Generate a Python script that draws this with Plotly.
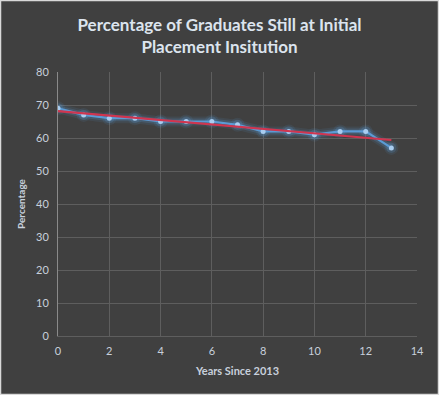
import numpy as np
import plotly.graph_objects as go

years = [0, 1, 2, 3, 4, 5, 6, 7, 8, 9, 10, 11, 12, 13]
percentage = [69, 67, 66, 66, 65, 65, 65, 64, 62, 62, 61, 62, 62, 57]
x_ticks = [0, 2, 4, 6, 8, 10, 12, 14]
y_ticks = [0, 10, 20, 30, 40, 50, 60, 70, 80]

slope, intercept = np.polyfit(years, percentage, 1)
trend_x = [years[0], years[-1]]
trend_y = [intercept + slope * v for v in trend_x]

FONT = "Lato, 'DejaVu Sans', sans-serif"
fig = go.Figure()
# glow
for w, a in [(10, 0.10), (6, 0.20)]:
    fig.add_trace(go.Scatter(x=years, y=percentage, mode="lines+markers",
                             line=dict(color=f"rgba(91,155,213,{a})", width=w),
                             marker=dict(size=w + 4, color=f"rgba(91,155,213,{a})"),
                             hoverinfo="skip", showlegend=False))
fig.add_trace(go.Scatter(x=years, y=percentage, mode="lines+markers",
                         line=dict(color="#5b9bd5", width=2.2),
                         marker=dict(size=5, color="#a9cdf0"),
                         showlegend=False))
fig.add_trace(go.Scatter(x=trend_x, y=trend_y, mode="lines",
                         line=dict(color="#d0354f", width=2.2),
                         showlegend=False))

fig.update_layout(
    width=439, height=395,
    paper_bgcolor="#404040", plot_bgcolor="#404040",
    margin=dict(l=58, r=22, t=72, b=59),
    font=dict(family=FONT, color="#c8c8c8", size=11),
    title=dict(text="<b>Percentage of Graduates Still at Initial<br>Placement Insitution</b>",
               x=0.5, xanchor="center", y=1 - 31/395, yanchor="middle",
               font=dict(family=FONT, size=17, color="#dce4ee")),
    xaxis=dict(range=[0, 14], tickvals=x_ticks, showgrid=True, gridcolor="#5e5e5e",
               gridwidth=1, zeroline=False, showline=True, linecolor="#5e5e5e",
               ticks="", ticklabelstandoff=5, tickfont=dict(size=11, color="#c8d0dc"),
               title=dict(text="<b>Years Since 2013</b>", standoff=11,
                          font=dict(size=11, color="#c8d0dc"))),
    yaxis=dict(range=[0, 80], tickvals=y_ticks, showgrid=True, gridcolor="#5e5e5e",
               gridwidth=1, zeroline=False, showline=True, linecolor="#8a8a8a",
               ticks="", ticklabelstandoff=6, tickfont=dict(size=11, color="#c8d0dc"),
               title=dict(text="<b>Percentage</b>", standoff=8,
                          font=dict(size=10, color="#c8d0dc"))),
)
# outer border
fig.add_shape(type="rect", xref="paper", yref="paper",
              x0=-58/359 + 0.5/359, x1=1 + 21.5/359, y0=-59/264 + 0.5/264, y1=1 + 71.5/264,
              line=dict(color="#d9d9d9", width=1.5), fillcolor="rgba(0,0,0,0)")
fig.write_html("out.html", config={"displayModeBar": False},
               post_script="document.body.style.margin='0';")
